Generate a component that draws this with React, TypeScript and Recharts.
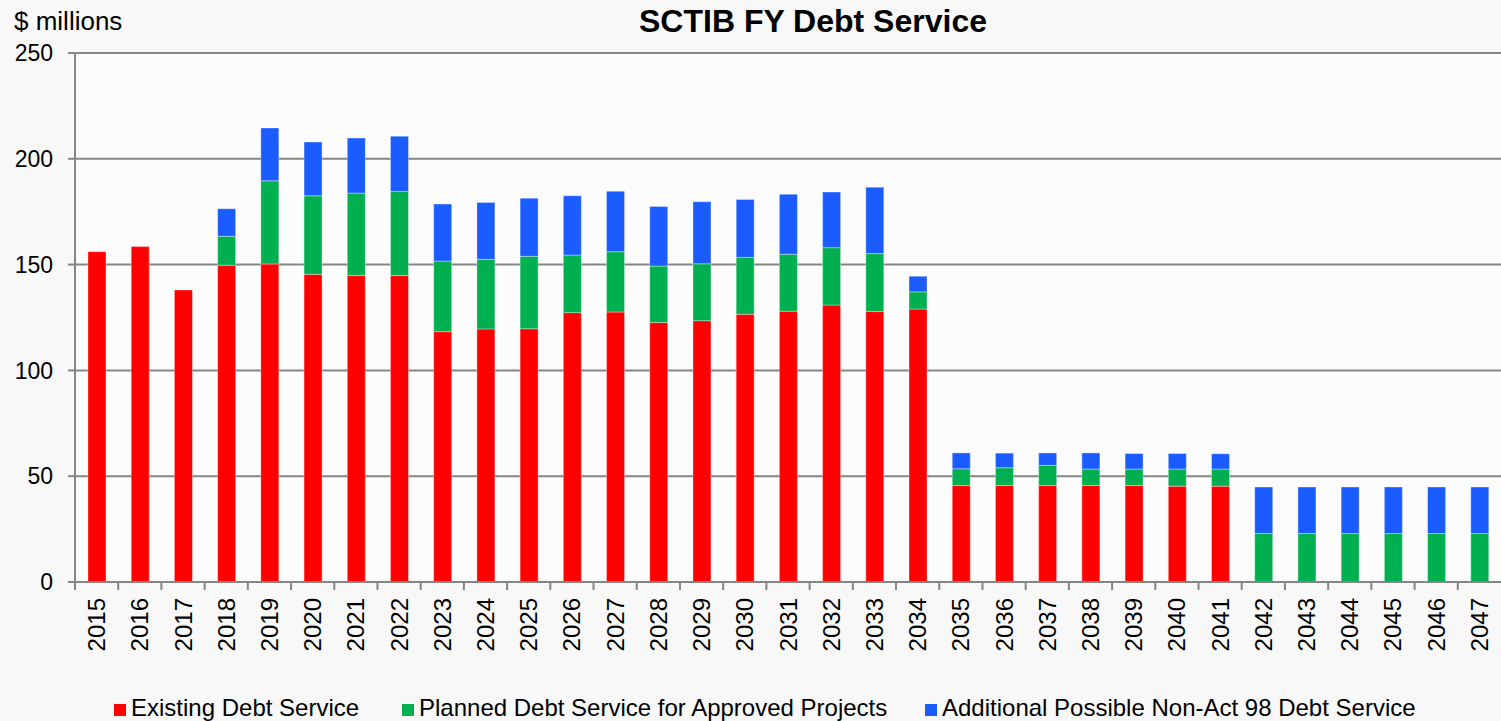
import { BarChart, Bar, XAxis, YAxis, CartesianGrid } from 'recharts';

const YEARS = [
  '2015', '2016', '2017', '2018', '2019', '2020', '2021', '2022', '2023', '2024', '2025',
  '2026', '2027', '2028', '2029', '2030', '2031', '2032', '2033', '2034', '2035', '2036',
  '2037', '2038', '2039', '2040', '2041', '2042', '2043', '2044', '2045', '2046', '2047',
];

const EXISTING = [
  156.1, 158.5, 138.0, 149.7, 150.3, 145.4, 144.8, 144.8, 118.3, 119.6, 119.7,
  127.3, 127.6, 122.6, 123.5, 126.5, 128.0, 130.9, 127.8, 129.0, 45.6, 45.6,
  45.6, 45.6, 45.6, 45.3, 45.3, 0, 0, 0, 0, 0, 0,
];

const PLANNED = [
  0, 0, 0, 13.7, 39.3, 37.1, 39.0, 39.8, 33.4, 32.9, 34.2,
  27.2, 28.5, 26.7, 26.9, 26.9, 26.9, 27.1, 27.4, 8.1, 7.9, 8.4,
  9.5, 7.8, 7.8, 8.1, 8.1, 22.9, 22.9, 22.9, 22.9, 22.9, 22.9,
];

const ADDITIONAL = [
  0, 0, 0, 13.0, 25.0, 25.4, 26.0, 26.1, 26.9, 26.9, 27.5,
  28.0, 28.6, 28.2, 29.3, 27.4, 28.3, 26.3, 31.4, 7.4, 7.5, 6.9,
  5.9, 7.6, 7.3, 7.3, 7.2, 22.0, 22.0, 22.0, 22.0, 22.0, 22.0,
];

const Y_TICKS = [0, 50, 100, 150, 200, 250];

const SERIES = [
  { key: 'existing', name: 'Existing Debt Service', color: '#ff0000' },
  { key: 'planned', name: 'Planned Debt Service for Approved Projects', color: '#00b050' },
  { key: 'additional', name: 'Additional Possible Non-Act 98 Debt Service', color: '#1a5cff' },
];

const W = 1501;
const H = 721;
const Y_AXIS_W = 75;
const HALF_BAND = (W - Y_AXIS_W) / YEARS.length / 2;
const GRID = '#858585';
const FONT = 'Liberation Sans, Arial, sans-serif';

const data = YEARS.map((year, i) => ({
  year,
  existing: EXISTING[i],
  planned: PLANNED[i],
  additional: ADDITIONAL[i],
}));

// year label sits at the bar centre, tick mark at the category boundary
function YearTick(props: any) {
  const { x, y, payload } = props;
  const bx = x - HALF_BAND;
  return (
    <g>
      <line x1={bx} x2={bx} y1={y - 12} y2={y - 4} stroke={GRID} strokeWidth={2} />
      <text
        x={x}
        y={y + 4}
        transform={`rotate(-90 ${x} ${y + 4})`}
        textAnchor="end"
        dominantBaseline="central"
        fontSize={24}
        fontFamily={FONT}
        fill="#000"
      >
        {payload.value}
      </text>
    </g>
  );
}

const legendPos = [
  { sq: 114, tx: 131 },
  { sq: 402, tx: 419 },
  { sq: 925, tx: 942 },
];

export default function App() {
  return (
    <div
      style={{
        position: 'fixed',
        left: 0,
        top: 0,
        width: W,
        height: H,
        background: '#f8f8f8',
        fontFamily: FONT,
      }}
    >
      <BarChart
        width={W}
        height={H}
        data={data}
        margin={{ top: 53, right: 0, bottom: 0, left: 0 }}
        barSize={18}
      >
        <CartesianGrid vertical={false} stroke={GRID} strokeWidth={2} fill="#fcfcfc" />
        <XAxis
          dataKey="year"
          height={139}
          interval={0}
          tickLine={false}
          tickSize={8}
          tickMargin={4}
          axisLine={{ stroke: GRID, strokeWidth: 2 }}
          tick={<YearTick />}
        />
        <YAxis
          width={Y_AXIS_W}
          domain={[0, 250]}
          ticks={Y_TICKS}
          interval={0}
          tickSize={7}
          tickMargin={15}
          tickLine={{ stroke: GRID, strokeWidth: 2 }}
          axisLine={{ stroke: GRID, strokeWidth: 2 }}
          tick={{ fontSize: 23, fill: '#000', fontFamily: FONT }}
        />
        {SERIES.map((s) => (
          <Bar
            key={s.key}
            dataKey={s.key}
            name={s.name}
            stackId="a"
            fill={s.color}
            stroke="rgba(255,255,255,0.35)"
            strokeWidth={1}
            isAnimationActive={false}
          />
        ))}
      </BarChart>
      <svg
        width={W}
        height={H}
        style={{ position: 'absolute', left: 0, top: 0, pointerEvents: 'none' }}
      >
        <text x={14} y={30} fontSize={26} fontFamily={FONT} fill="#000">
          $ millions
        </text>
        <text
          x={813}
          y={32}
          textAnchor="middle"
          fontSize={32}
          fontWeight="bold"
          fontFamily={FONT}
          fill="#000"
        >
          SCTIB FY Debt Service
        </text>
        {SERIES.map((s, i) => (
          <g key={s.key}>
            <rect x={legendPos[i].sq} y={704} width={12} height={12} fill={s.color} />
            <text x={legendPos[i].tx} y={716} fontSize={24} fontFamily={FONT} fill="#000">
              {s.name}
            </text>
          </g>
        ))}
      </svg>
    </div>
  );
}
